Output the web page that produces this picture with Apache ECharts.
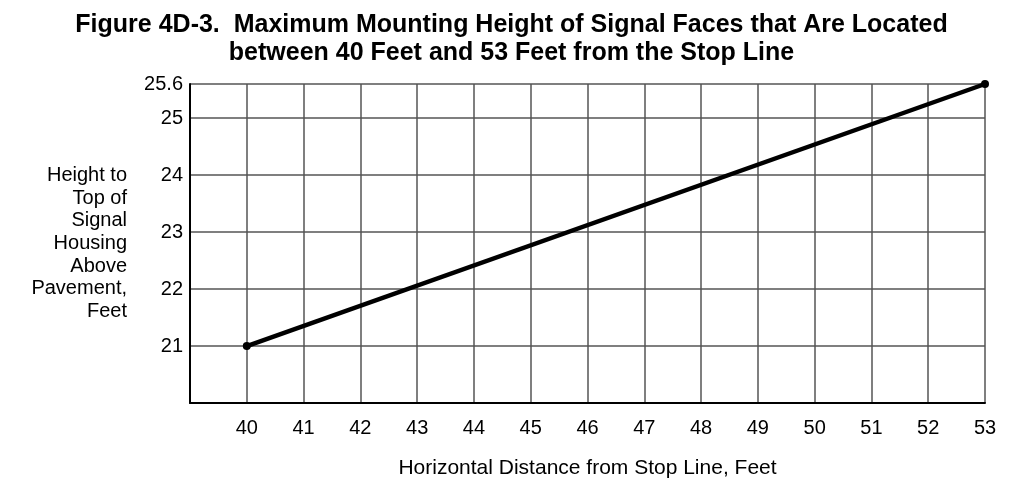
<!DOCTYPE html>
<html lang="en">
<head>
    <meta charset="UTF-8">
    <title>Figure 4D-3</title>
    <script src="https://cdn.jsdelivr.net/npm/echarts@6/dist/echarts.min.js"></script>
    <style>
        html, body { margin: 0; padding: 0; background: #fff; }
        #chart { width: 1023px; height: 491px; }
    </style>
</head>
<body>
    <div id="chart"></div>
    <script>
        // distance from stop line (ft) and max mounting height (ft)
        var distance = [40, 53];
        var height = [21, 25.6];

        var titleLines = [
            'Figure 4D-3.  Maximum Mounting Height of Signal Faces that Are Located',
            'between 40 Feet and 53 Feet from the Stop Line'
        ];
        var yName = ['Height to', 'Top of', 'Signal', 'Housing', 'Above', 'Pavement,', 'Feet'];
        var xName = 'Horizontal Distance from Stop Line, Feet';

        var font = 'Liberation Sans, Arial, Helvetica, sans-serif';
        var gridLine = { show: true, lineStyle: { color: '#555', width: 1.5 } };

        var chart = echarts.init(document.getElementById('chart'));
        chart.setOption({
            animation: false,
            title: {
                text: titleLines.join('\n'),
                left: 'center',
                top: 6,
                textStyle: { fontFamily: font, fontSize: 25, fontWeight: 'bold', color: '#000', lineHeight: 28 }
            },
            grid: { left: 190, right: 38, top: 84, bottom: 88 },
            xAxis: {
                type: 'value',
                min: 39,
                max: 53,
                interval: 1,
                name: xName,
                nameLocation: 'middle',
                nameGap: 55,
                nameTextStyle: { fontFamily: font, fontSize: 21, color: '#000' },
                axisLine: { show: true, onZero: false, lineStyle: { color: '#000', width: 2 } },
                axisTick: { show: false },
                splitLine: gridLine,
                axisLabel: {
                    fontFamily: font, fontSize: 20, color: '#000', margin: 15,
                    formatter: function (v) { return v < 40 ? '' : String(v); }
                }
            },
            yAxis: {
                type: 'value',
                min: 20,
                max: 25.6,
                interval: 1,
                name: yName.join('\n'),
                nameLocation: 'middle',
                nameRotate: 0,
                nameGap: 63,
                nameTextStyle: { fontFamily: font, fontSize: 20, color: '#000', align: 'right', lineHeight: 22.7, padding: [28, 0, 0, 0] },
                axisLine: { show: true, onZero: false, lineStyle: { color: '#000', width: 2 } },
                axisTick: { show: false },
                splitLine: gridLine,
                axisLabel: {
                    fontFamily: font, fontSize: 20, color: '#000', margin: 7,
                    formatter: function (v) { return v < 21 ? '' : String(v); }
                }
            },
            series: [{
                type: 'line',
                data: distance.map(function (d, i) { return [d, height[i]]; }),
                symbol: 'circle',
                symbolSize: 8,
                itemStyle: { color: '#000' },
                lineStyle: { color: '#000', width: 4.5 }
            }]
        });
    </script>
</body>
</html>
